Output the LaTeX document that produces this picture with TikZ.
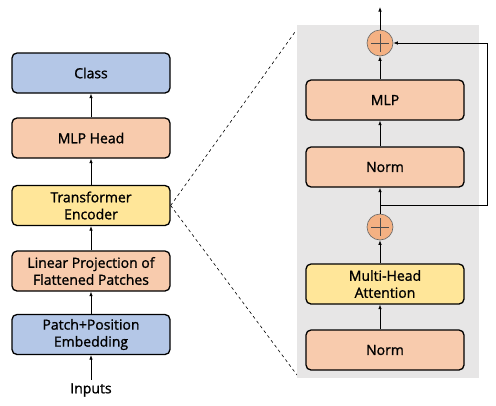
\documentclass[tikz,border=0pt]{standalone}
\usepackage{fontspec}
\setmainfont{Open Sans}
\newfontfamily\lblfont[BoldFont={Open Sans}, BoldFeatures={FakeBold=1.2}]{Open Sans}
\usepackage{tikz}
\usetikzlibrary{arrows.meta}

\definecolor{boxblue}{HTML}{B4C7E7}
\definecolor{boxorange}{HTML}{F8CBAD}
\definecolor{boxyellow}{HTML}{FFE699}
\definecolor{bggray}{HTML}{E7E6E6}
\definecolor{plusfill}{HTML}{F4B183}

\begin{document}
\begin{tikzpicture}[x=1pt, y=-1pt,
	lbl/.style={font=\lblfont\bfseries\fontsize{14}{17}\selectfont},
	blk/.style={lbl, draw, line width=1.3pt, rounded corners=5pt, minimum width=158pt, minimum height=40pt, align=center},
	addop/.style={circle, draw=gray!80!black, line width=0.6pt, fill=plusfill, minimum size=26pt, inner sep=0pt},
	arr/.style={-{Latex[length=4.5pt,width=3.5pt]}, line width=0.7pt}]
	\useasboundingbox (0,0) rectangle (496,405);
	\fill[bggray] (297,25) rectangle (479,378);
	% left column
	\node[blk, fill=boxblue] (cls) at (91,73) {Class};
	\node[blk, fill=boxorange] (head) at (91,138) {MLP Head};
	\node[blk, fill=boxyellow] (enc) at (91,205.5) {Transformer\\Encoder};
	\node[blk, fill=boxorange] (proj) at (91,271) {Linear Projection of\\Flattened Patches};
	\node[blk, fill=boxblue] (emb) at (91,334.5) {Patch+Position\\Embedding};
	\node[lbl] (inp) at (91,390) {Inputs};
	\draw[arr] (inp) -- (emb);
	\draw[arr] (emb) -- (proj);
	\draw[arr] (proj) -- (enc);
	\draw[arr] (enc) -- (head);
	\draw[arr] (head) -- (cls);
	% encoder block
	\node[blk, fill=boxorange] (norm1) at (385,350) {Norm};
	\node[blk, fill=boxyellow] (mha) at (385,284) {Multi-Head\\Attention};
	\node[addop] (add1) at (380,227) {};
	\node[blk, fill=boxorange] (norm2) at (385,167) {Norm};
	\node[blk, fill=boxorange] (mlp) at (385,100) {MLP};
	\node[addop] (add2) at (380,43) {};
	\foreach \a in {add1,add2}
		\draw[gray!60!black, line width=0.6pt] (\a.center) ++(-9,0) -- ++(18,0) (\a.center) ++(0,-9) -- ++(0,18);
	\coordinate (out) at (380,7);
	\coordinate (split) at (380,205);
	\coordinate (skipR) at (487,205);
	\draw[arr] (norm1.north -| add1) -- (mha.south -| add1);
	\draw[arr] (mha.north -| add1) -- (add1);
	\draw[arr] (add1) -- (norm2.south -| add1);
	\draw[arr] (norm2.north -| add1) -- (mlp.south -| add1);
	\draw[arr] (mlp.north -| add1) -- (add2);
	\draw[arr] (add2) -- (out);
	\draw[arr] (split) -- (skipR) |- (add2);
	% zoom lines
	\coordinate (zt) at (295,32);
	\coordinate (zb) at (297,375);
	\draw[dashed, line width=0.6pt] (enc.east) -- (zt);
	\draw[dashed, line width=0.6pt] (enc.east) -- (zb);
\end{tikzpicture}
\end{document}
